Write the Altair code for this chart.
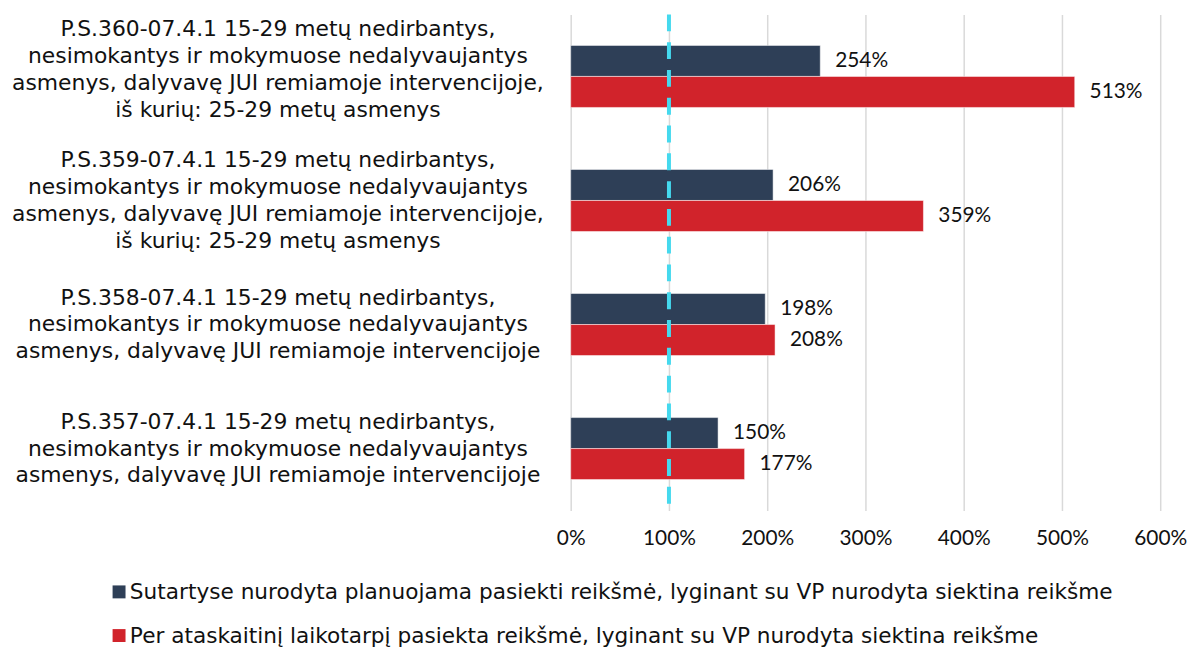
import altair as alt
import pandas as pd

categories = [
    "P.S.360-07.4.1 15-29 metų nedirbantys,|nesimokantys ir mokymuose nedalyvaujantys|asmenys, dalyvavę JUI remiamoje intervencijoje,|iš kurių: 25-29 metų asmenys",
    "P.S.359-07.4.1 15-29 metų nedirbantys,|nesimokantys ir mokymuose nedalyvaujantys|asmenys, dalyvavę JUI remiamoje intervencijoje,|iš kurių: 25-29 metų asmenys",
    "P.S.358-07.4.1 15-29 metų nedirbantys,|nesimokantys ir mokymuose nedalyvaujantys|asmenys, dalyvavę JUI remiamoje intervencijoje",
    "P.S.357-07.4.1 15-29 metų nedirbantys,|nesimokantys ir mokymuose nedalyvaujantys|asmenys, dalyvavę JUI remiamoje intervencijoje",
]
series = [
    "Sutartyse nurodyta planuojama pasiekti reikšmė, lyginant su VP nurodyta siektina reikšme",
    "Per ataskaitinį laikotarpį pasiekta reikšmė, lyginant su VP nurodyta siektina reikšme",
]
planned = [254, 206, 198, 150]
achieved = [513, 359, 208, 177]
target_line = [100]
x_ticks = [0, 100, 200, 300, 400, 500, 600]

rows = []
for c, p, a in zip(categories, planned, achieved):
    rows.append({"cat": c, "series": series[0], "value": p, "label": f"{p}%"})
    rows.append({"cat": c, "series": series[1], "value": a, "label": f"{a}%"})
df = pd.DataFrame(rows)
cat_df = pd.DataFrame({"cat": categories})

DARK = "#2E3F57"
RED = "#D1232B"
CYAN = "#45D9EE"
LABEL_FONT = "DejaVu Sans"
NUM_FONT = "Lato"
LH = 27

y_enc = alt.Y(
    "cat:N",
    sort=categories,
    scale=alt.Scale(paddingInner=0.5, paddingOuter=0.25),
    axis=alt.Axis(title=None, labels=False, ticks=False, domain=False, grid=False),
)
x_enc = alt.X(
    "value:Q",
    scale=alt.Scale(domain=[0, 600], nice=False),
    axis=alt.Axis(
        title=None,
        values=x_ticks,
        labelExpr="datum.value + '%'",
        labelFont=NUM_FONT,
        labelFontSize=21,
        labelColor="#111111",
        labelPadding=17,
        labelFlush=False,
        ticks=False,
        domain=False,
        grid=True,
        gridColor="#D9D9D9",
        gridWidth=1.5,
    ),
)
yoff = alt.YOffset("series:N", sort=series, scale=alt.Scale(paddingInner=0, paddingOuter=0))

base = alt.Chart(df).encode(y=y_enc, yOffset=yoff)

bars = base.mark_bar(stroke="white", strokeWidth=0.5).encode(
    x=x_enc,
    color=alt.Color(
        "series:N",
        sort=series,
        scale=alt.Scale(domain=series, range=[DARK, RED]),
        legend=alt.Legend(
            title=None,
            orient="none",
            legendX=-466,
            legendY=571,
            direction="vertical",
            symbolType="square",
            symbolSize=170,
            symbolStrokeWidth=0,
            labelFont=LABEL_FONT,
            labelFontSize=21.8,
            labelColor="#111111",
            labelLimit=1200,
            labelOffset=0,
            rowPadding=21,
            padding=0,
        ),
    ),
)

texts = base.mark_text(
    align="left", baseline="middle", dx=15, font=NUM_FONT, fontSize=21, color="#111111"
).encode(x=alt.X("value:Q"), text="label:N")

rule = (
    alt.Chart(pd.DataFrame({"x": target_line}))
    .mark_rule(color=CYAN, strokeWidth=4, strokeDash=[17, 11])
    .encode(x="x:Q")
)

# category labels as centered multi-line text left of the plot
cat_layers = []
for i, c in enumerate(categories):
    n = len(c.split("|"))
    shift = -(n - 1) * LH / 2 - (7 if i == 0 else 0)
    cat_layers.append(
        alt.Chart(cat_df)
        .transform_filter(alt.datum.cat == c)
        .mark_text(
            align="center",
            baseline="middle",
            lineBreak="|",
            lineHeight=LH,
            font=LABEL_FONT,
            fontSize=22,
            color="#111111",
            dy=shift,
        )
        .encode(
            y=alt.Y("cat:N", sort=categories, axis=None),
            x=alt.value(-295),
            text="cat:N",
        )
    )

chart = (
    alt.layer(bars, texts, rule, *cat_layers)
    .properties(
        width=594,
        height=500,
        background="white",
        padding={"left": 4, "top": 2, "right": 0, "bottom": 0},
    )
    .configure_view(stroke=None)
)

chart.save("out.html", embed_options={"renderer": "svg", "actions": False})
